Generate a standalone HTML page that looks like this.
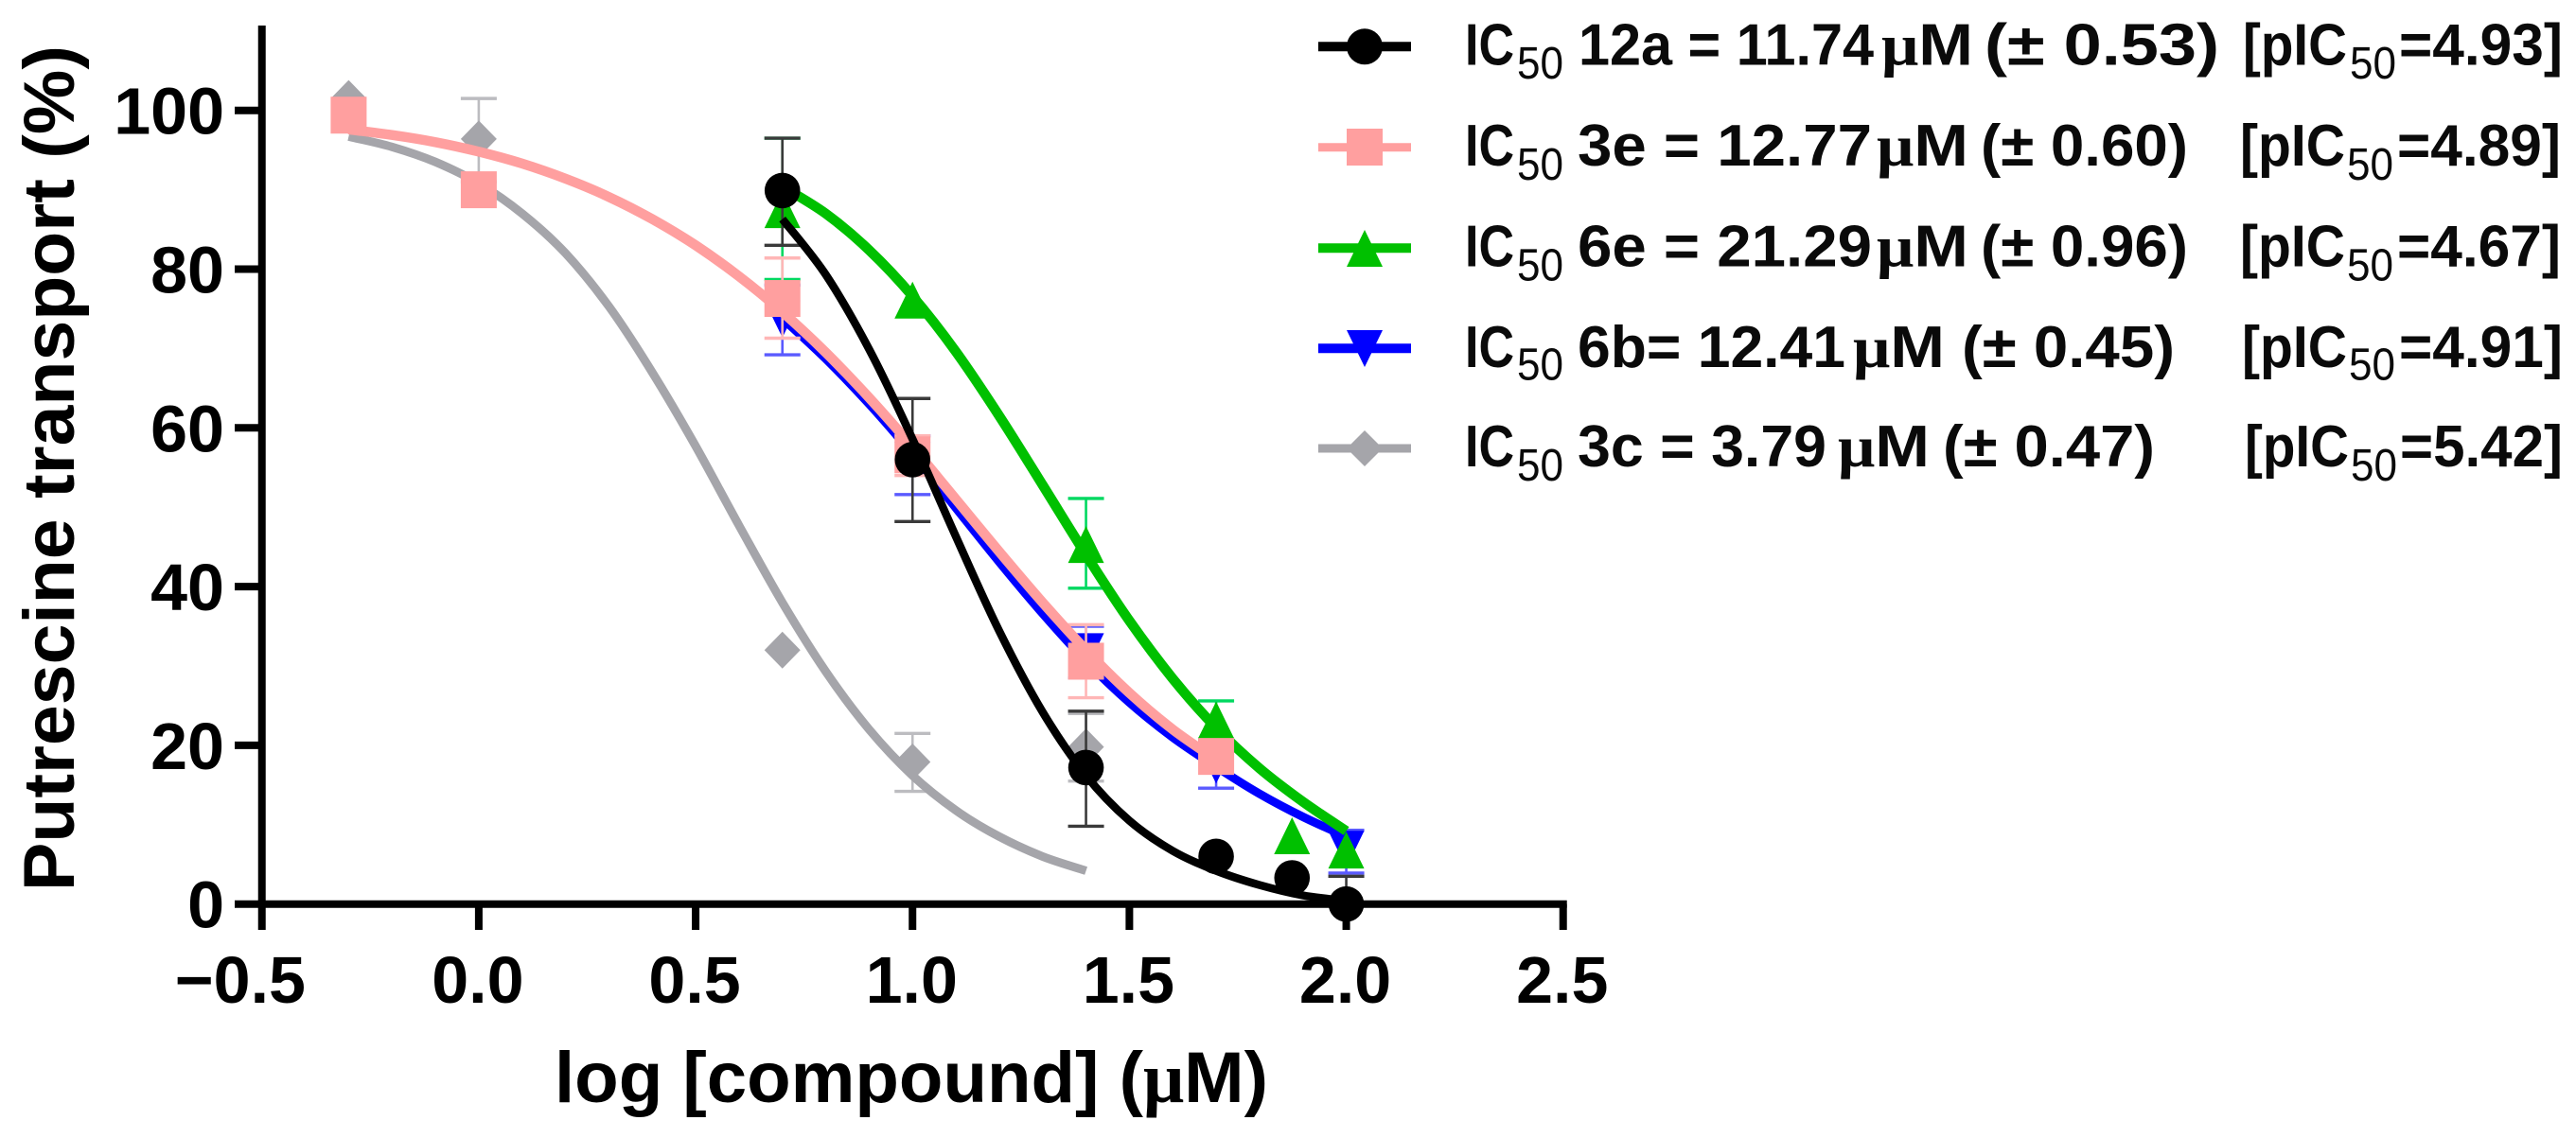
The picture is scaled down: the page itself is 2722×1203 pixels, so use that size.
<!DOCTYPE html>
<html lang="en">
<head>
<meta charset="utf-8">
<title>Putrescine transport dose-response chart</title>
<style>
html,body{margin:0;padding:0;background:#fff;}
svg{display:block;position:absolute;left:0;top:0;}
text{font-family:"Liberation Sans",sans-serif;font-weight:bold;fill:#000;}
.tick{font-size:70px;}
.title{font-size:76px;}
.lg{font-size:62px;fill:#0a0a0a;}
.sub{font-size:48px;font-weight:normal;fill:#0a0a0a;}
.mu{font-family:"Liberation Serif",serif;}
</style>
</head>
<body>
<svg id="chart" width="2722" height="1203" viewBox="0 0 2722 1203" xmlns="http://www.w3.org/2000/svg">
  <rect x="0" y="0" width="2722" height="1203" fill="#fff"/>
  <g id="axes"></g>
  <g id="plot"></g>

  <text class="title" x="586" y="1165" textLength="754" lengthAdjust="spacingAndGlyphs">log [compound] (<tspan class="mu">μ</tspan>M)</text>
  <text class="title" transform="translate(78,942) rotate(-90)" x="0" y="0" textLength="894" lengthAdjust="spacingAndGlyphs">Putrescine transport (%)</text>

  <g>
    <g>
      <line x1="1393" x2="1491" y1="49.3" y2="49.3" stroke="#000" stroke-width="10"/>
      <circle cx="1442" cy="49.3" r="19" fill="#000"/>
      <text class="lg" x="1548" y="68.3" textLength="52" lengthAdjust="spacingAndGlyphs">IC</text>
      <text class="sub" x="1603" y="83" textLength="49" lengthAdjust="spacingAndGlyphs">50</text>
      <text class="lg" x="1668" y="68.3" textLength="312" lengthAdjust="spacingAndGlyphs">12a = 11.74</text>
      <text class="lg" x="1988" y="68.3" textLength="97" lengthAdjust="spacingAndGlyphs"><tspan class="mu">μ</tspan>M</text>
      <text class="lg" x="2097" y="68.3" textLength="248" lengthAdjust="spacingAndGlyphs">(± 0.53)</text>
      <text class="lg" x="2370" y="68.3" textLength="110" lengthAdjust="spacingAndGlyphs">[pIC</text>
      <text class="sub" x="2483" y="83" textLength="49" lengthAdjust="spacingAndGlyphs">50</text>
      <text class="lg" x="2535" y="68.3" textLength="173" lengthAdjust="spacingAndGlyphs">=4.93]</text>
    </g>
    <g>
      <line x1="1393" x2="1491" y1="155.7" y2="155.7" stroke="#ff9f9f" stroke-width="9"/>
      <rect x="1423" y="136" width="38" height="39" fill="#ff9f9f"/>
      <text class="lg" x="1548" y="175" textLength="52" lengthAdjust="spacingAndGlyphs">IC</text>
      <text class="sub" x="1603" y="190" textLength="49" lengthAdjust="spacingAndGlyphs">50</text>
      <text class="lg" x="1667" y="175" textLength="311" lengthAdjust="spacingAndGlyphs">3e = 12.77</text>
      <text class="lg" x="1983" y="175" textLength="97" lengthAdjust="spacingAndGlyphs"><tspan class="mu">μ</tspan>M</text>
      <text class="lg" x="2093" y="175" textLength="219" lengthAdjust="spacingAndGlyphs">(± 0.60)</text>
      <text class="lg" x="2367" y="175" textLength="111" lengthAdjust="spacingAndGlyphs">[pIC</text>
      <text class="sub" x="2480" y="190" textLength="49" lengthAdjust="spacingAndGlyphs">50</text>
      <text class="lg" x="2533" y="175" textLength="173" lengthAdjust="spacingAndGlyphs">=4.89]</text>
    </g>
    <g>
      <line x1="1393" x2="1491" y1="262.3" y2="262.3" stroke="#00c000" stroke-width="10"/>
      <polygon points="1442,243 1461,282 1423,282" fill="#00c000"/>
      <text class="lg" x="1548" y="281.7" textLength="52" lengthAdjust="spacingAndGlyphs">IC</text>
      <text class="sub" x="1603" y="296.7" textLength="49" lengthAdjust="spacingAndGlyphs">50</text>
      <text class="lg" x="1667" y="281.7" textLength="311" lengthAdjust="spacingAndGlyphs">6e = 21.29</text>
      <text class="lg" x="1983" y="281.7" textLength="97" lengthAdjust="spacingAndGlyphs"><tspan class="mu">μ</tspan>M</text>
      <text class="lg" x="2093" y="281.7" textLength="219" lengthAdjust="spacingAndGlyphs">(± 0.96)</text>
      <text class="lg" x="2367" y="281.7" textLength="111" lengthAdjust="spacingAndGlyphs">[pIC</text>
      <text class="sub" x="2480" y="296.7" textLength="49" lengthAdjust="spacingAndGlyphs">50</text>
      <text class="lg" x="2533" y="281.7" textLength="173" lengthAdjust="spacingAndGlyphs">=4.67]</text>
    </g>
    <g>
      <line x1="1393" x2="1491" y1="368.3" y2="368.3" stroke="#0000ff" stroke-width="10"/>
      <polygon points="1423,349 1461,349 1442,388" fill="#0000ff"/>
      <text class="lg" x="1548" y="388" textLength="52" lengthAdjust="spacingAndGlyphs">IC</text>
      <text class="sub" x="1603" y="401.7" textLength="49" lengthAdjust="spacingAndGlyphs">50</text>
      <text class="lg" x="1667" y="388" textLength="283" lengthAdjust="spacingAndGlyphs">6b= 12.41</text>
      <text class="lg" x="1958" y="388" textLength="97" lengthAdjust="spacingAndGlyphs"><tspan class="mu">μ</tspan>M</text>
      <text class="lg" x="2073" y="388" textLength="225" lengthAdjust="spacingAndGlyphs">(± 0.45)</text>
      <text class="lg" x="2369" y="388" textLength="111" lengthAdjust="spacingAndGlyphs">[pIC</text>
      <text class="sub" x="2482" y="401.7" textLength="49" lengthAdjust="spacingAndGlyphs">50</text>
      <text class="lg" x="2535" y="388" textLength="173" lengthAdjust="spacingAndGlyphs">=4.91]</text>
    </g>
    <g>
      <line x1="1393" x2="1491" y1="474" y2="474" stroke="#a5a5aa" stroke-width="9"/>
      <polygon points="1442,455 1461,474 1442,493 1423,474" fill="#a5a5aa"/>
      <text class="lg" x="1548" y="493" textLength="52" lengthAdjust="spacingAndGlyphs">IC</text>
      <text class="sub" x="1603" y="508" textLength="49" lengthAdjust="spacingAndGlyphs">50</text>
      <text class="lg" x="1667" y="493" textLength="263" lengthAdjust="spacingAndGlyphs">3c = 3.79</text>
      <text class="lg" x="1942" y="493" textLength="97" lengthAdjust="spacingAndGlyphs"><tspan class="mu">μ</tspan>M</text>
      <text class="lg" x="2053" y="493" textLength="224" lengthAdjust="spacingAndGlyphs">(± 0.47)</text>
      <text class="lg" x="2372" y="493" textLength="110" lengthAdjust="spacingAndGlyphs">[pIC</text>
      <text class="sub" x="2484" y="508" textLength="49" lengthAdjust="spacingAndGlyphs">50</text>
      <text class="lg" x="2536" y="493" textLength="172" lengthAdjust="spacingAndGlyphs">=5.42]</text>
    </g>
  </g>
</svg>

<script>
// ---- Axis tick labels ----
const xTicks = [-0.5, 0.0, 0.5, 1.0, 1.5, 2.0, 2.5];
const xTickLabels = ["−0.5", "0.0", "0.5", "1.0", "1.5", "2.0", "2.5"];
const yTicks = [0, 20, 40, 60, 80, 100];
const yTickLabels = ["0", "20", "40", "60", "80", "100"];

// ---- Compound 3c (grey) ----
const x3c = [-0.3, 0, 0.7, 1, 1.4];
const y3c = [101.5, 96.4, 32, 17.9, 19.8];
const hi3c = [null, 101.5, null, 21.5, 24];
const lo3c = [null, 91, null, 14.2, 15.5];
const curveX3c = [-0.3, -0.2, -0.1, 0, 0.1, 0.2, 0.3, 0.4, 0.5, 0.6, 0.7, 0.8, 0.9, 1, 1.1, 1.2, 1.3, 1.4];
const curveY3c = [96.7, 95.4, 93.5, 90.8, 87, 82, 75.3, 67, 57.7, 47.7, 38, 29.3, 22, 16.2, 11.8, 8.5, 6, 4.2];

// ---- Compound 6b (blue) ----
const x6b = [0.7, 1, 1.4, 1.7, 2];
const y6b = [73.7, 55.9, 31.8, 17.5, 6.9];
const hi6b = [78, 59, 35, 20.5, 9.3];
const lo6b = [69.2, 51.6, 28.5, 14.6, 3.9];
const curveX6b = [0.7, 0.8, 0.9, 1, 1.1, 1.2, 1.3, 1.4, 1.5, 1.6, 1.7, 1.8, 1.9, 2];
const curveY6b = [73.8, 68.7, 63, 56.7, 49.9, 43.1, 36.6, 30.6, 25.4, 21, 17.3, 13.9, 11, 8.5];

// ---- Compound 6e (green) ----
const x6e = [0.7, 1, 1.4, 1.7, 1.875, 2];
const y6e = [87.5, 76.1, 45.3, 23.2, 8.6, 6.8];
const hi6e = [96.5, null, 51.1, 25.6, null, null];
const lo6e = [78.7, null, 39.8, 20.8, null, null];
const curveX6e = [0.7, 0.8, 0.9, 1, 1.1, 1.2, 1.3, 1.4, 1.5, 1.6, 1.7, 1.8, 1.9, 2];
const curveY6e = [90.4, 87, 82.4, 76.6, 69.6, 61.5, 52.8, 44, 35.7, 28.4, 22.2, 17.1, 12.9, 9.2];

// ---- Compound 3e (pink) ----
const x3e = [-0.3, 0, 0.7, 1, 1.4, 1.7];
const y3e = [99.4, 90, 76.3, 56.6, 30.6, 18.6];
const hi3e = [null, null, 81.4, 59, 35.2, null];
const lo3e = [null, null, 71.3, 54, 26, null];
const curveX3e = [-0.3, -0.2, -0.1, 0, 0.1, 0.2, 0.3, 0.4, 0.5, 0.6, 0.7, 0.8, 0.9, 1, 1.1, 1.2, 1.3, 1.4, 1.5, 1.6, 1.7];
const curveY3e = [97.6, 96.9, 96, 94.8, 93.3, 91.4, 89.1, 86.3, 83, 79.1, 74.6, 69.5, 63.8, 57.6, 51, 44.4, 38, 32, 26.6, 22, 18.2];

// ---- Compound 12a (black) ----
const x12a = [0.7, 1, 1.4, 1.7, 1.875, 2];
const y12a = [89.9, 56, 17.2, 6, 3.3, 0];
const hi12a = [96.5, 63.7, 24.3, null, null, 3.5];
const lo12a = [83, 48.2, 9.8, null, null, null];
const curveX12a = [0.7, 0.8, 0.9, 1, 1.1, 1.2, 1.3, 1.4, 1.5, 1.6, 1.7, 1.8, 1.9, 2];
const curveY12a = [86.3, 79.3, 69.9, 58.6, 46.3, 34.4, 24.2, 16.2, 10.5, 6.7, 4.2, 2.4, 1.1, 0.4];

// ---- Axis functions ----
const sx = v => 505.9 + 458.33 * v;
const sy = v => 955.7 - 8.39 * v;
const NS = 'http://www.w3.org/2000/svg';
const axes = document.getElementById('axes');
const plot = document.getElementById('plot');

function make(tag, parent, props) {
  const el = document.createElementNS(NS, tag);
  for (const k in props) el.setAttribute(k, props[k]);
  parent.appendChild(el);
  return el;
}

// ---- Axes ----
function drawAxes() {
  const xAxis = make('line', axes, {x1: sx(-0.5) - 4, x2: sx(2.5) + 4, y1: sy(0), y2: sy(0), stroke: '#000', 'stroke-width': 8});
  
  
  const yAxis = make('line', axes, {x1: sx(-0.5), x2: sx(-0.5), y1: 27, y2: sy(0), stroke: '#000', 'stroke-width': 8});
  
  

  xTicks.forEach((t, i) => {
    const tick = make('line', axes, {x1: sx(t), x2: sx(t), y1: sy(0), y2: 983, stroke: '#000', 'stroke-width': 8});
    
    
    const isNeg = t < 0;
    const label = make('text', axes, {x: isNeg ? 323 : sx(t) - 1, y: 1060, 'text-anchor': isNeg ? 'end' : 'middle', class: 'tick'});
    label.textContent = xTickLabels[i];
    
    
  });
  yTicks.forEach((t, i) => {
    const tick = make('line', axes, {x1: 248, x2: sx(-0.5), y1: sy(t), y2: sy(t), stroke: '#000', 'stroke-width': 8});
    
    
    const label = make('text', axes, {x: 237, y: sy(t) + 25, 'text-anchor': 'end', class: 'tick'});
    label.textContent = yTickLabels[i];
    
    
  });
}

// ---- Curve path: Catmull-Rom spline through the read samples ----
function curvePath(xs, ys) {
  const p = xs.map((x, i) => [sx(x), sy(ys[i])]);
  let d = 'M' + p[0][0].toFixed(1) + ' ' + p[0][1].toFixed(1);
  for (let i = 0; i < p.length - 1; i++) {
    const a = p[Math.max(i - 1, 0)], b = p[i], c = p[i + 1], e = p[Math.min(i + 2, p.length - 1)];
    const c1x = b[0] + (c[0] - a[0]) / 6, c1y = b[1] + (c[1] - a[1]) / 6;
    const c2x = c[0] - (e[0] - b[0]) / 6, c2y = c[1] - (e[1] - b[1]) / 6;
    d += 'C' + [c1x, c1y, c2x, c2y, c[0], c[1]].map(n => n.toFixed(1)).join(' ');
  }
  return d;
}

function marker(shape, cx, cy, color, parent) {
  const h = 19.5, w = 19;
  if (shape === 'circle') return make('circle', parent, {cx: cx, cy: cy, r: 18.8, fill: color});
  if (shape === 'square') return make('rect', parent, {x: cx - w, y: cy - h, width: 2 * w, height: 2 * h, fill: color});
  let pts;
  if (shape === 'up') pts = [[cx, cy - h], [cx + w, cy + h], [cx - w, cy + h]];
  if (shape === 'down') pts = [[cx - w, cy - h], [cx + w, cy - h], [cx, cy + h]];
  if (shape === 'diamond') pts = [[cx, cy - h], [cx + w, cy], [cx, cy + h], [cx - w, cy]];
  return make('polygon', parent, {points: pts.map(q => q.join(',')).join(' '), fill: color});
}

function drawSeries(name, xs, ys, hi, lo, cx, cy, color, errColor, shape, lineWidth) {
  const g = make('g', plot, {});
  
  

  xs.forEach((x, i) => {
    const top = hi[i] === null ? ys[i] : hi[i];
    const bot = lo[i] === null ? ys[i] : lo[i];
    if (hi[i] === null && lo[i] === null) return;
    const stem = make('line', g, {x1: sx(x), x2: sx(x), y1: sy(top), y2: sy(bot), stroke: errColor, 'stroke-width': 2.6});
    
    
    [hi[i], lo[i]].forEach(v => {
      if (v === null) return;
      const cap = make('line', g, {x1: sx(x) - 19, x2: sx(x) + 19, y1: sy(v), y2: sy(v), stroke: errColor, 'stroke-width': 3.4});
      
      
    });
  });

  const curve = make('path', g, {d: curvePath(cx, cy), fill: 'none', stroke: color, 'stroke-width': lineWidth});
  
  

  xs.forEach((x, i) => {
    const m = marker(shape, sx(x), sy(ys[i]), color, g);
    
    
  });
}

drawAxes();
drawSeries('3c', x3c, y3c, hi3c, lo3c, curveX3c, curveY3c, '#a5a5aa', '#bcbcc0', 'diamond', 9);
drawSeries('6b', x6b, y6b, hi6b, lo6b, curveX6b, curveY6b, '#0000ff', '#5a5aff', 'down', 9);
drawSeries('6e', x6e, y6e, hi6e, lo6e, curveX6e, curveY6e, '#00c000', '#00d860', 'up', 10.5);
drawSeries('3e', x3e, y3e, hi3e, lo3e, curveX3e, curveY3e, '#ff9f9f', '#ffb6b6', 'square', 10.5);
drawSeries('12a', x12a, y12a, hi12a, lo12a, curveX12a, curveY12a, '#000000', '#3a3a3a', 'circle', 8.5);
</script>
</body>
</html>
